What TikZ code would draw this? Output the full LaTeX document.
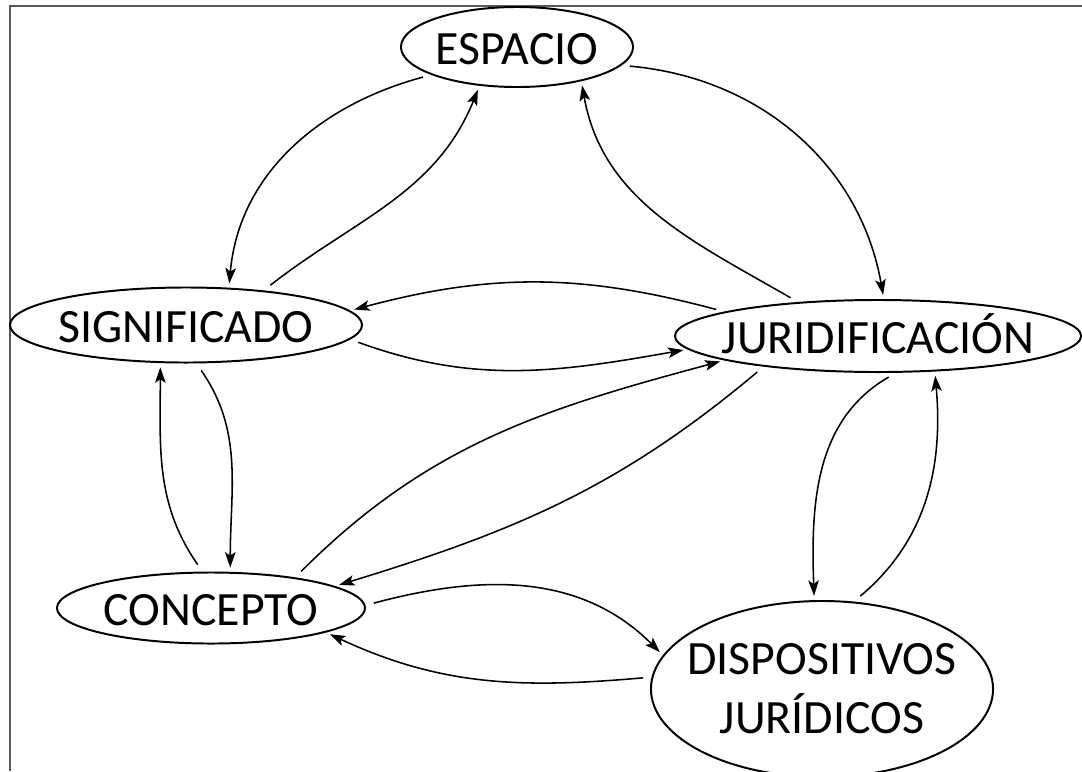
\documentclass[tikz,border=0pt]{standalone}
\usepackage{fontspec}
\setmainfont{Carlito}
\usetikzlibrary{arrows.meta,shapes.geometric}

\begin{document}
\begin{tikzpicture}[x=0.025cm,y=-0.025cm,
    every node/.style={ellipse,draw,line width=1.4pt,inner xsep=-12pt,inner ysep=0pt,
      font=\fontsize{34}{42}\selectfont,align=center},
    word/.style={text height=24.5pt,text depth=0pt},
    link/.style={-{Stealth[length=11pt,width=7.5pt,inset=2.5pt]},line width=1.1pt,shorten <=6pt,shorten >=3pt}]
     \useasboundingbox (0,0) rectangle (1082,771);
     \draw [line width=1.4pt,black!65] (1082,6) -- (10,6) -- (10,771);
     \node [word,minimum width=5.8cm,minimum height=2cm] (ES) at (517,47) {ESPACIO};
     \node [word,minimum width=8.8cm,minimum height=1.875cm] (SI) at (186,325) {SIGNIFICADO};
     \node [word,minimum width=10.15cm,minimum height=1.8cm] (JU) at (878,336) {JURIDIFICACIÓN};
     \node [word,minimum width=7.7cm,minimum height=1.775cm] (CO) at (211,608) {CONCEPTO};
     \node [minimum width=8.55cm,minimum height=4.4cm] (DI) at (822,689) {DISPOSITIVOS\\JURÍDICOS};
     \draw [link] (ES.198) to [out=195,in=85] (SI.41);
     \draw [link] (SI.24) to [out=38,in=248] (ES.226);
     \draw [link] (ES.350) to [out=-5,in=100] (JU.81);
     \draw [link] (JU.157) to [out=150,in=-80] (ES.332);
     \draw [link] (JU.171) to [out=165,in=15] (SI.5);
     \draw [link] (SI.355) to [out=-20,in=190] (JU.184);
     \draw [link] (CO.20) to [out=45,in=195] (JU.189);
     \draw [link] (JU.195) to [out=220,in=17] (CO.10);
     \draw [link] (SI.285) to [out=-55,in=90] (CO.62);
     \draw [link] (CO.103) to [out=125,in=-90] (SI.236);
     \draw [link] (JU.296) to [out=210,in=92] (DI.95);
     \draw [link] (DI.70) to [out=40,in=-85] (JU.328);
     \draw [link] (CO.1) to [out=15,in=135] (DI.168);
     \draw [link] (DI.176) to [out=185,in=-25] (CO.348);
\end{tikzpicture}
\end{document}
